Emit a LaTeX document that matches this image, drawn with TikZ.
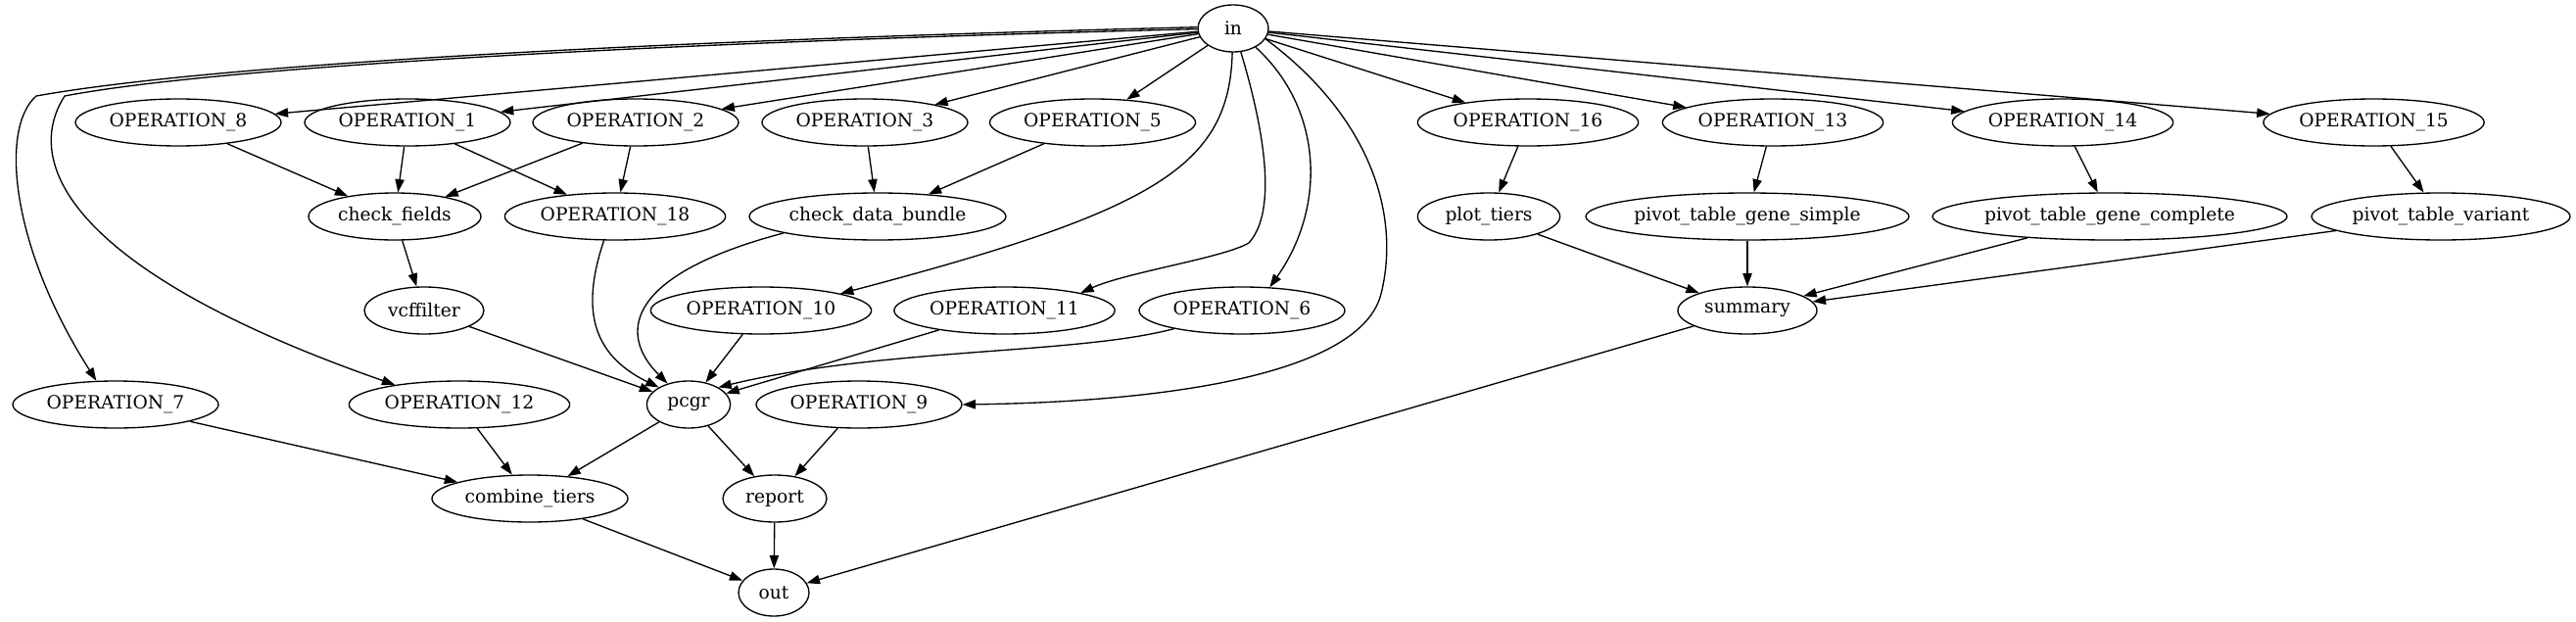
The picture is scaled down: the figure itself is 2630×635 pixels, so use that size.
\documentclass[tikz,border=0pt]{standalone}
\usepackage{fontspec}
\setmainfont{DejaVu Serif}
\usetikzlibrary{shapes.geometric,arrows.meta}
\begin{document}
\begin{tikzpicture}[x=0.75pt,y=-0.75pt,
  gv/.style={ellipse,draw,line width=1pt,inner sep=0pt,minimum height=36pt,font=\fontsize{14}{16}\selectfont},
  sw/.style={minimum width=157.5pt},
  dw/.style={minimum width=169pt},
  arr/.style={line width=1pt,-{Triangle[length=10pt,width=7pt]}}]
\useasboundingbox (0,0) rectangle (2630,635);
% rank 0
\node[gv,minimum width=54pt] (in) at (1259,29) {in};
% rank 1
\node[gv,sw] (op8) at (182,125) {OPERATION\_8};
\node[gv,sw] (op1) at (416,125) {OPERATION\_1};
\node[gv,sw] (op2) at (649,125) {OPERATION\_2};
\node[gv,sw] (op3) at (883,125) {OPERATION\_3};
\node[gv,sw] (op5) at (1115.5,125) {OPERATION\_5};
\node[gv,dw] (op16) at (1560,125) {OPERATION\_16};
\node[gv,dw] (op13) at (1810,125) {OPERATION\_13};
\node[gv,dw] (op14) at (2106,125) {OPERATION\_14};
\node[gv,dw] (op15) at (2423.5,125) {OPERATION\_15};
% rank 2
\node[gv,minimum width=132pt] (cf) at (403,221) {check\_fields};
\node[gv,dw] (op18) at (628,221) {OPERATION\_18};
\node[gv,minimum width=196.5pt] (cdb) at (896,221) {check\_data\_bundle};
\node[gv,minimum width=109pt] (pt) at (1520,221) {plot\_tiers};
\node[gv,minimum width=247.5pt] (pgs) at (1784,221) {pivot\_table\_gene\_simple};
\node[gv,minimum width=271.5pt] (pgc) at (2154,221) {pivot\_table\_gene\_complete};
\node[gv,minimum width=198pt] (ptv) at (2492,221) {pivot\_table\_variant};
% rank 3
\node[gv,minimum width=91.5pt] (vcf) at (433,317) {vcffilter};
\node[gv,dw] (op10) at (777,317) {OPERATION\_10};
\node[gv,dw] (op11) at (1025.5,317) {OPERATION\_11};
\node[gv,sw] (op6) at (1268,317) {OPERATION\_6};
\node[gv,minimum width=106.5pt] (sum) at (1784,317) {summary};
% rank 4
\node[gv,sw] (op7) at (118,413) {OPERATION\_7};
\node[gv,dw] (op12) at (469,413) {OPERATION\_12};
\node[gv,minimum width=64pt] (pcgr) at (703,413) {pcgr};
\node[gv,sw] (op9) at (877,413) {OPERATION\_9};
% rank 5
\node[gv,minimum width=150pt] (ct) at (541,509) {combine\_tiers};
\node[gv,minimum width=79.5pt] (rep) at (791,509) {report};
% rank 6
\node[gv,minimum width=54pt] (out) at (790,605) {out};

% edges from in (straight)
\foreach \t in {op8,op1,op2,op3,op5,op16,op13,op14,op15}
  \draw[arr] (in) -- (\t);
% curved edges from in
\draw[arr] (in.178) .. controls (800,38) and (250,60) .. (37,98)
  .. controls (0,130) and (10,250) .. (op7.129);
\draw[arr] (in.181) .. controls (800,40) and (250,63) .. (66,98)
  .. controls (20,170) and (80,280) .. (op12.163);
\draw[arr] (in.-92) .. controls (1255,170) and (1180,215) .. (op10.12);
\draw[arr] (in.-72) .. controls (1290,130) and (1305,215) .. (1275,248)
  .. controls (1250,263) and (1150,278) .. (op11.13);
\draw[arr] (in.-40) .. controls (1350,110) and (1355,210) .. (op6.40);
\draw[arr] (in.-18) .. controls (1400,120) and (1430,220) .. (1410,300)
  .. controls (1390,380) and (1200,410) .. (op9.east);

% rank1 -> rank2
\draw[arr] (op8) -- (cf);
\draw[arr] (op1) -- (cf);
\draw[arr] (op1) -- (op18);
\draw[arr] (op2) -- (cf);
\draw[arr] (op2) -- (op18);
\draw[arr] (op3) -- (cdb);
\draw[arr] (op5) -- (cdb);
\draw[arr] (op16) -- (pt);
\draw[arr] (op13) -- (pgs);
\draw[arr] (op14) -- (pgc);
\draw[arr] (op15) -- (ptv);
% to summary
\draw[arr] (pt) -- (sum);
\draw[arr] (pgs) -- (sum);
\draw[arr] (pgc) -- (sum);
\draw[arr] (ptv) -- (sum);
% left column
\draw[arr] (cf) -- (vcf);
\draw[arr] (vcf) -- (pcgr);
\draw[arr] (op18.-115) .. controls (595,310) and (600,360) .. (pcgr.150);
\draw[arr] (cdb.-170) .. controls (640,280) and (630,340) .. (pcgr.135);
\draw[arr] (op10) -- (pcgr);
\draw[arr] (op11) -- (pcgr);
\draw[arr] (op6.-165) .. controls (1100,362) and (900,355) .. (pcgr.30);
% lower
\draw[arr] (op7) -- (ct);
\draw[arr] (op12) -- (ct);
\draw[arr] (pcgr) -- (ct);
\draw[arr] (pcgr) -- (rep);
\draw[arr] (op9) -- (rep);
\draw[arr] (ct) -- (out);
\draw[arr] (rep) -- (out);
\draw[arr] (sum) -- (out);
\end{tikzpicture}
\end{document}
